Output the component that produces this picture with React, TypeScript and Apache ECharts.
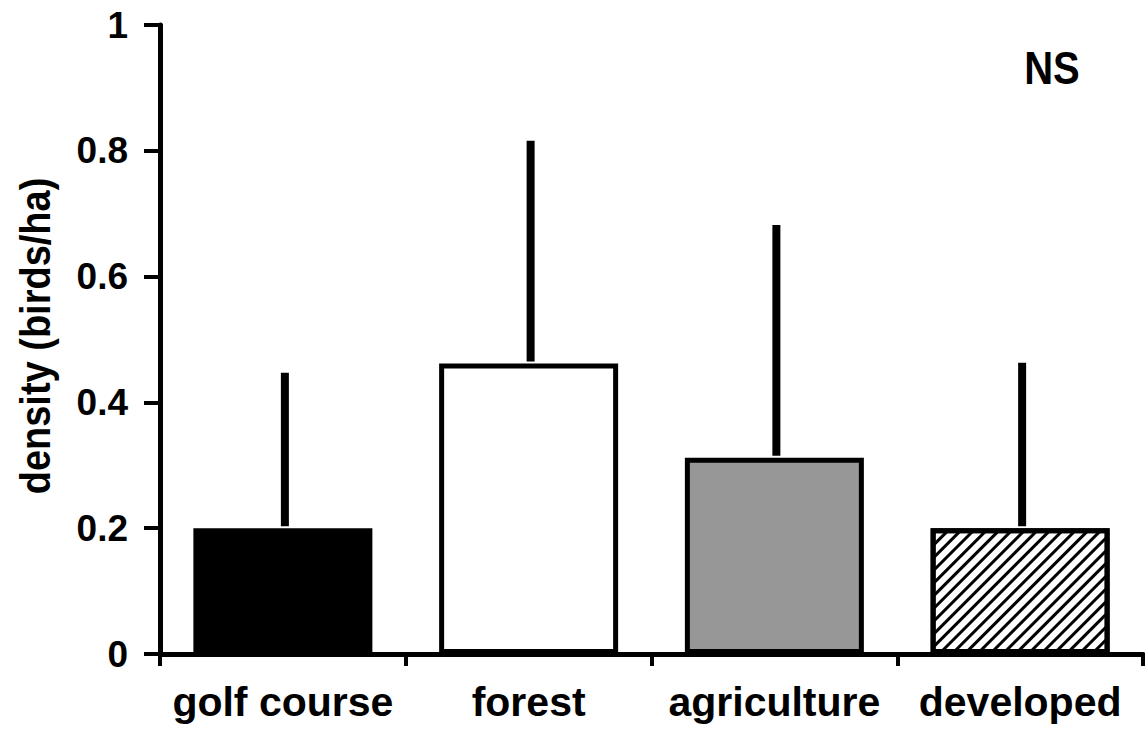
import React, { useEffect, useRef } from "react";
import * as echarts from "echarts";

const categories = ["golf course", "forest", "agriculture", "developed"];
const means = [0.2, 0.462, 0.312, 0.2];
const errors = [0.247, 0.354, 0.37, 0.263];
const yTicks = [0, 0.2, 0.4, 0.6, 0.8, 1];
const significance = "NS";
const yTitle = "density (birds/ha)";

const FONT = "Liberation Sans, Arial, Helvetica, sans-serif";

export default function App() {
  const ref = useRef<HTMLDivElement>(null);
  useEffect(() => {
    if (!ref.current) return;
    const chart = echarts.init(ref.current, null, { renderer: "svg" });
    const barStyles = [
      { color: "#000000" },
      { color: "#ffffff" },
      { color: "#979797" },
      {
        color: "#ffffff",
        decal: {
          symbol: "rect",
          symbolSize: 1,
          dashArrayX: [[1, 0]],
          dashArrayY: [3, 6],
          rotation: -Math.PI / 4,
          color: "#000000",
          backgroundColor: "#ffffff",
        },
      },
    ];
    chart.setOption({
      animation: false,
      backgroundColor: "#ffffff",
      grid: { left: 160, right: 2, top: 25, bottom: 76, containLabel: false },
      xAxis: {
        type: "category",
        data: categories,
        axisLine: { lineStyle: { color: "#000", width: 5 } },
        axisTick: { show: true, length: 12, lineStyle: { color: "#000", width: 4 } },
        axisLabel: {
          color: "#000",
          fontFamily: FONT,
          fontWeight: "bold",
          fontSize: 41,
          margin: 27,
          interval: 0,
        },
      },
      yAxis: {
        type: "value",
        min: 0,
        max: 1,
        interval: 0.2,
        splitLine: { show: false },
        axisLine: { show: true, lineStyle: { color: "#000", width: 5 } },
        axisTick: { show: true, length: 16, lineStyle: { color: "#000", width: 4 } },
        axisLabel: {
          color: "#000",
          fontFamily: FONT,
          fontWeight: "bold",
          fontSize: 37,
          margin: 32,
          formatter: (v: number) => {
            const t = yTicks.find((y) => Math.abs(y - v) < 1e-9);
            return t === undefined ? "" : String(t);
          },
        },
      },
      series: [
        {
          type: "bar",
          barWidth: 179,
          data: means.map((m, i) => ({
            value: m,
            itemStyle: {
              ...barStyles[i],
              borderColor: "#000",
              borderWidth: 5,
            },
          })),
          z: 2,
        },
        {
          type: "custom",
          z: 3,
          data: means.map((m, i) => [i, m, m + errors[i]]),
          renderItem: (params: any, api: any) => {
            const x = api.value(0);
            const lo = api.coord([x, api.value(1)]);
            const hi = api.coord([x, api.value(2)]);
            return {
              type: "line",
              shape: { x1: lo[0] + 2, y1: lo[1] - 2, x2: hi[0] + 2, y2: hi[1] },
              style: { stroke: "#000", lineWidth: 8 },
            };
          },
        },
      ],
      graphic: [
        {
          type: "text",
          x: 1052,
          y: 68,
          scaleY: 1.15,
          style: {
            text: significance,
            font: `bold 40px ${FONT}`,
            fill: "#000",
            align: "center",
            verticalAlign: "middle",
          },
        },
        {
          type: "text",
          x: 35,
          y: 336,
          rotation: Math.PI / 2,
          scaleY: 1.1,
          style: {
            text: yTitle,
            font: `bold 38px ${FONT}`,
            fill: "#000",
            align: "center",
            verticalAlign: "middle",
          },
        },
      ],
    });
    return () => chart.dispose();
  }, []);
  return (
    <div
      ref={ref}
      style={{ position: "fixed", left: 0, top: 0, width: 1145, height: 730, background: "#fff" }}
    />
  );
}
